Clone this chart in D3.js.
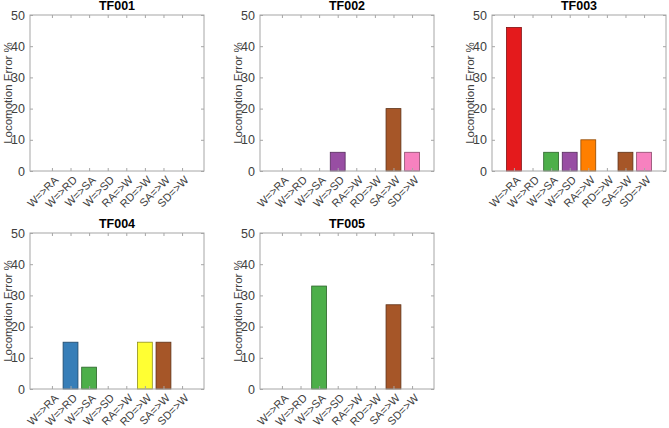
<!DOCTYPE html>
<html>
<head>
<meta charset="utf-8">
<script src="https://cdn.jsdelivr.net/npm/d3@7"></script>
<style>
  body { margin: 0; background: #fff; }
  svg { font-family: "Liberation Sans", Arial, sans-serif; }
</style>
</head>
<body>
<svg id="chart" width="669" height="428"></svg>
<script>
// transitions on the x axis
const categories = ["W=>RA", "W=>RD", "W=>SA", "W=>SD", "RA=>W", "RD=>W", "SA=>W", "SD=>W"];
const colors = ["#e41a1c", "#377eb8", "#4daf4a", "#984ea3", "#ff7f00", "#ffff33", "#a65628", "#f781bf"];

const titles = ["TF001", "TF002", "TF003", "TF004", "TF005"];
const tf001 = [0, 0, 0, 0, 0, 0, 0, 0];
const tf002 = [0, 0, 0, 6, 0, 0, 20, 6];
const tf003 = [46, 0, 6, 6, 10, 0, 6, 6];
const tf004 = [0, 15, 7, 0, 0, 15, 15, 0];
const tf005 = [0, 0, 33, 0, 0, 0, 27, 0];
const series = [tf001, tf002, tf003, tf004, tf005];

const yTicks = [0, 10, 20, 30, 40, 50];

const svg = d3.select("#chart");

const col_left = [30, 260, 492];
const row_top = [15, 233];
const w = 174, h = 156;
const axis_color = "#a6a6a6";
const text_color = "#404040";

series.forEach((vals, i) => {
    const left = col_left[i % 3], top = row_top[Math.floor(i / 3)];
    const g = svg.append("g").attr("transform", `translate(${left}, ${top})`);

    const x = d3.scaleLinear().domain([-0.18, 9.18]).range([0, w]);
    const y = d3.scaleLinear().domain([0, 50]).range([h, 0]);

    // bars
    g.selectAll("rect").data(vals.map((v, k) => ({v, k}))).enter()
        .filter(d => d.v > 0)
        .append("rect")
        .attr("x", d => x(d.k + 1 - 0.4))
        .attr("width", d => x(0.8) - x(0))
        .attr("y", d => y(d.v))
        .attr("height", d => y(0) - y(d.v))
        .style("fill", d => colors[d.k])
        .style("stroke", d => d3.color(colors[d.k]).darker(1.6))
        .style("stroke-width", 0.8);

    // axis_y
    const ax_y = g.append("g").call(d3.axisLeft(y).tickValues(yTicks).tickSize(-3).tickPadding(5));
    ax_y.select(".domain").remove();
    ax_y.selectAll("line").style("stroke", axis_color);
    ax_y.selectAll("text").style("font-size", "12.5px").style("fill", text_color);

    const ax_y_r = g.append("g").attr("transform", `translate(${w}, 0)`)
        .call(d3.axisRight(y).tickValues(yTicks).tickSize(-3).tickFormat(""));
    ax_y_r.select(".domain").remove();
    ax_y_r.selectAll("line").style("stroke", axis_color);

    // axis_x
    const ax_x = g.append("g").attr("transform", `translate(0, ${h})`)
        .call(d3.axisBottom(x).tickValues(d3.range(1, 9)).tickSize(-3).tickFormat(d => categories[d - 1]));
    ax_x.select(".domain").remove();
    ax_x.selectAll("line").style("stroke", axis_color);
    ax_x.selectAll("text")
        .style("font-size", "11px").style("fill", text_color)
        .attr("text-anchor", "end")
        .attr("dy", "0.35em")
        .attr("y", 0).attr("x", 0)
        .attr("transform", "translate(4, 7) rotate(-45)");

    const ax_x_t = g.append("g")
        .call(d3.axisTop(x).tickValues(d3.range(1, 9)).tickSize(-3).tickFormat(""));
    ax_x_t.select(".domain").remove();
    ax_x_t.selectAll("line").style("stroke", axis_color);

    // box
    g.append("rect").attr("width", w).attr("height", h)
        .style("fill", "none").style("stroke", axis_color).style("stroke-width", 1);

    // title
    g.append("text").attr("x", w / 2).attr("y", -5)
        .attr("text-anchor", "middle")
        .style("font-size", "12.5px").style("font-weight", "bold").style("fill", "#000")
        .text(titles[i]);

    // y label
    g.append("text").attr("transform", `translate(-18, ${h / 2}) rotate(-90)`)
        .attr("text-anchor", "middle")
        .style("font-size", "11.5px").style("fill", text_color)
        .text("Locomotion Error %");
});
</script>
</body>
</html>
